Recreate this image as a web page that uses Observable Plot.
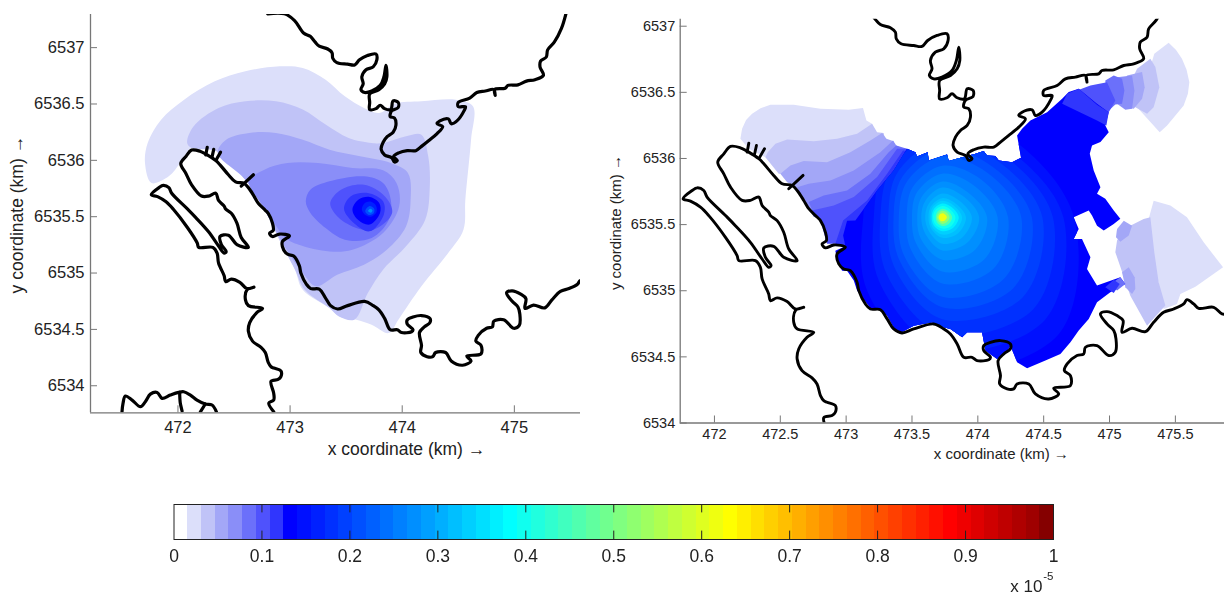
<!DOCTYPE html>
<html><head><meta charset="utf-8">
<script src="https://cdn.jsdelivr.net/npm/d3@7"></script>
<script src="https://cdn.jsdelivr.net/npm/@observablehq/plot@0.6"></script>
<style>
html,body{margin:0;padding:0;background:#fff}
#page{position:relative;width:1224px;height:596px;overflow:hidden;filter:blur(0.4px)}
#page svg{position:absolute;background:#fff}
</style></head><body><div id="page"></div>
<script>
// ---- colour table (64 levels, 0 .. 1 x 10^-5) ----
const colorTable = ["#ffffff","#dcdffa","#c0c3f7","#a3a7f7","#8a8ef8","#6b70fa","#4f52fc","#3036fd",
"#0000ff","#0010ff","#0020ff","#0030ff","#0040ff","#0050ff","#0060ff","#0070ff",
"#0080ff","#008fff","#009fff","#00afff","#00bfff","#00cfff","#00dfff","#00efff",
"#00ffff","#10ffef","#20ffdf","#30ffcf","#40ffbf","#50ffaf","#60ff9f","#70ff8f",
"#80ff80","#8fff70","#9fff60","#afff50","#bfff40","#cfff30","#dfff20","#efff10",
"#ffff00","#ffef00","#ffdf00","#ffcf00","#ffbf00","#ffaf00","#ff9f00","#ff8f00",
"#ff8000","#ff7000","#ff6000","#ff5000","#ff4000","#ff3000","#ff2000","#ff1000",
"#ff0000","#ef0000","#df0000","#cf0000","#bf0000","#af0000","#9f0000","#850000"];
const colorbarTicks = [0,0.1,0.2,0.3,0.4,0.5,0.6,0.7,0.8,0.9,1];

// ---- coastline, km ----
const coastNorth = [[472.80,6537.30],[472.95,6537.30],[473.04,6537.24],[473.12,6537.13],[473.18,6537.10],[473.222,6537.051],[473.26,6537.013],[473.336,6536.988],[473.374,6536.955],[473.381,6536.905],[473.417,6536.867],[473.513,6536.854],[473.576,6536.847],[473.619,6536.892],[473.69,6536.93],[473.766,6536.943],[473.774,6536.892],[473.741,6536.829],[473.677,6536.804],[473.64,6536.741],[473.652,6536.678],[473.632,6536.628],[473.665,6536.602],[473.728,6536.615],[473.804,6536.665],[473.837,6536.741],[473.855,6536.842],[473.863,6536.741],[473.843,6536.678],[473.792,6536.627],[473.71,6536.59],[473.71,6536.514],[473.71,6536.451],[473.766,6536.459],[473.804,6536.489],[473.843,6536.459],[473.898,6536.451],[473.919,6536.527],[473.964,6536.514],[473.964,6536.469],[473.906,6536.439],[473.893,6536.388],[473.931,6536.376],[473.944,6536.313],[473.919,6536.25],[473.868,6536.212],[473.83,6536.161],[473.812,6536.098],[473.843,6536.048],[473.906,6536.023],[473.931,6535.985],[473.956,6535.998],[473.924,6536.035],[473.969,6536.066],[474.045,6536.086],[474.121,6536.086],[474.172,6536.124],[474.235,6536.174],[474.311,6536.237],[474.361,6536.3],[474.311,6536.325],[474.336,6536.35],[474.412,6536.368],[474.437,6536.325],[474.488,6536.35],[474.551,6536.439],[474.564,6536.476],[474.5,6536.476],[474.5,6536.514],[474.602,6536.552],[474.665,6536.602],[474.741,6536.615],[474.817,6536.628],[474.829,6536.577],[474.824,6536.628],[474.918,6536.64],[474.943,6536.665],[475.032,6536.67],[475.108,6536.703],[475.184,6536.716],[475.259,6536.754],[475.229,6536.829],[475.234,6536.88],[475.285,6536.917],[475.297,6536.98],[475.356,6537.048],[475.42,6537.17],[475.46,6537.30]];
const coastMain = [[472.854,6533.77],[472.81,6533.846],[472.854,6533.874],[472.854,6533.933],[472.83,6534.04],[472.893,6534.056],[472.918,6534.081],[472.918,6534.132],[472.855,6534.157],[472.83,6534.169],[472.805,6534.207],[472.779,6534.295],[472.741,6534.341],[472.665,6534.396],[472.628,6534.484],[472.64,6534.56],[472.703,6534.648],[472.754,6534.686],[472.628,6534.711],[472.602,6534.762],[472.615,6534.85],[472.678,6534.875],[472.615,6534.862],[472.552,6534.918],[472.476,6534.946],[472.425,6534.925],[472.412,6534.976],[472.362,6535.089],[472.349,6535.177],[472.311,6535.228],[472.185,6535.228],[472.172,6535.266],[472.084,6535.404],[471.957,6535.568],[471.894,6535.632],[471.818,6535.678],[471.762,6535.695],[471.831,6535.758],[471.869,6535.778],[471.919,6535.758],[471.944,6535.708],[472.084,6535.569],[472.159,6535.492],[472.273,6535.366],[472.362,6535.24],[472.412,6535.177],[472.43,6535.19],[472.387,6535.253],[472.375,6535.324],[472.45,6535.336],[472.526,6535.253],[472.628,6535.228],[472.564,6535.316],[472.526,6535.442],[472.476,6535.53],[472.425,6535.568],[472.412,6535.594],[472.362,6535.645],[472.337,6535.708],[472.273,6535.683],[472.21,6535.683],[472.122,6535.783],[472.071,6535.884],[472.025,6535.972],[472.071,6536.035],[472.122,6536.091],[472.197,6536.081],[472.261,6536.048],[472.337,6535.998],[472.375,6535.96],[472.45,6535.872],[472.514,6535.809],[472.59,6535.796],[472.628,6535.758],[472.678,6535.683],[472.716,6535.62],[472.779,6535.557],[472.805,6535.53],[472.843,6535.442],[472.85,6535.379],[472.817,6535.354],[472.843,6535.324],[472.906,6535.346],[472.994,6535.329],[472.931,6535.278],[472.944,6535.203],[472.982,6535.165],[473.032,6535.152],[473.083,6535.064],[473.096,6535.001],[473.146,6534.9],[473.184,6534.862],[473.26,6534.857],[473.311,6534.787],[473.361,6534.711],[473.424,6534.681],[473.513,6534.711],[473.665,6534.749],[473.741,6534.711],[473.792,6534.673],[473.843,6534.598],[473.893,6534.497],[473.956,6534.497],[473.994,6534.472],[474.083,6534.479],[474.096,6534.497],[474.045,6534.547],[474.045,6534.585],[474.096,6534.61],[474.172,6534.623],[474.247,6534.598],[474.247,6534.56],[474.197,6534.522],[474.154,6534.472],[474.172,6534.358],[474.166,6534.295],[474.222,6534.258],[474.273,6534.258],[474.298,6534.295],[474.387,6534.295],[474.437,6534.22],[474.538,6534.182],[474.614,6534.22],[474.576,6534.263],[474.703,6534.283],[474.703,6534.358],[474.657,6534.396],[474.678,6534.447],[474.753,6534.51],[474.804,6534.522],[474.817,6534.573],[474.905,6534.585],[474.994,6534.51],[475.044,6534.535],[475.049,6534.636],[475.032,6534.699],[474.981,6534.749],[474.931,6534.825],[474.981,6534.842],[475.057,6534.812],[475.103,6534.774],[475.095,6534.686],[475.171,6534.716],[475.272,6534.691],[475.335,6534.762],[475.411,6534.837],[475.487,6534.862],[475.563,6534.9],[475.588,6534.933],[475.639,6534.9],[475.677,6534.867],[475.791,6534.875],[475.854,6534.825],[475.892,6534.825]];
const islandSouth = [[471.501,6533.769],[471.51,6533.844],[471.531,6533.909],[471.591,6533.873],[471.665,6533.814],[471.709,6533.858],[471.754,6533.926],[471.814,6533.941],[471.858,6533.888],[471.932,6533.917],[472.006,6533.941],[472.051,6533.947],[472.111,6533.917],[472.17,6533.873],[472.244,6533.838],[472.304,6533.829],[472.343,6533.769]];
const islandBranchA = [[472.015,6533.941],[472.021,6533.844],[472.037,6533.775]];
const islandBranchB = [[472.244,6533.838],[472.2,6533.769]];
const spurA = [[472.261,6536.116],[472.248,6536.048]];
const spurB = [[472.319,6536.098],[472.304,6536.03]];
const spurC = [[472.38,6536.073],[472.344,6536.01]];
const spurD = [[472.673,6535.872],[472.564,6535.771]];
const coastLines = [coastNorth,coastMain,islandSouth,islandBranchA,islandBranchB,spurA,spurB,spurC,spurD];

// ---- left panel contours, km ----
const leftL1 = [[471.706,6535.976],[471.73,6536.154],[471.85,6536.361],[472.055,6536.538],[472.328,6536.701],[472.601,6536.79],[472.908,6536.834],[473.113,6536.82],[473.317,6536.716],[473.488,6536.568],[473.659,6536.464],[473.795,6536.42],[473.932,6536.503],[474.171,6536.524],[474.478,6536.538],[474.631,6536.479],[474.614,6536.183],[474.563,6535.651],[474.546,6535.385],[474.41,6535.178],[474.171,6534.882],[473.966,6534.586],[473.881,6534.467],[473.727,6534.541],[473.59,6534.586],[473.437,6534.615],[473.352,6534.689],[473.113,6534.852],[473.044,6535.03],[472.942,6535.222],[472.771,6535.562],[472.601,6535.828],[472.345,6536.08],[472.123,6536.109],[472.02,6535.976],[471.918,6535.858],[471.764,6535.799]];
const leftL2 = [[472.082,6536.154],[472.14,6536.302],[472.362,6536.464],[472.601,6536.524],[472.874,6536.524],[473.113,6536.45],[473.317,6536.317],[473.522,6536.198],[473.727,6536.154],[473.829,6536.154],[474.034,6536.213],[474.171,6536.228],[474.232,6536.036],[474.246,6535.769],[474.205,6535.473],[474.034,6535.237],[473.829,6535.03],[473.693,6534.822],[473.573,6534.586],[473.437,6534.615],[473.352,6534.689],[473.13,6534.852],[473.044,6535.03],[472.942,6535.222],[472.771,6535.562],[472.601,6535.828],[472.345,6536.08],[472.123,6536.109]];
const leftL3 = [[472.355,6536.065],[472.43,6536.183],[472.635,6536.243],[472.874,6536.243],[473.113,6536.183],[473.352,6536.095],[473.625,6536.036],[473.898,6535.976],[474.051,6535.888],[474.075,6535.651],[474.034,6535.414],[473.863,6535.207],[473.659,6535.074],[473.42,6534.985],[473.232,6534.882],[473.113,6535],[472.959,6535.222],[472.771,6535.562],[472.601,6535.828]];
const leftL4 = [[472.635,6535.814],[472.771,6535.917],[472.976,6535.976],[473.249,6535.976],[473.556,6535.932],[473.829,6535.911],[473.949,6535.799],[473.973,6535.592],[473.829,6535.355],[473.556,6535.207],[473.352,6535.192],[473.078,6535.251],[472.959,6535.311],[472.805,6535.533]];
const leftL5 = [[473.14,6535.636],[473.181,6535.74],[473.352,6535.814],[473.659,6535.858],[473.829,6535.799],[473.898,6535.651],[473.881,6535.473],[473.727,6535.311],[473.488,6535.296],[473.317,6535.399],[473.181,6535.533]];
const leftL6 = [[473.358,6535.621],[473.454,6535.74],[473.659,6535.784],[473.846,6535.68],[473.91,6535.533],[473.744,6535.385],[473.556,6535.414],[473.42,6535.503]];
const leftL7 = [[473.481,6535.568],[473.539,6535.68],[473.693,6535.71],[473.829,6535.636],[473.836,6535.518],[473.71,6535.37],[473.573,6535.44]];
const leftL8 = [[473.556,6535.562],[473.608,6535.651],[473.71,6535.675],[473.795,6535.621],[473.802,6535.533],[473.71,6535.43],[473.608,6535.47]];
const leftL9 = [[473.64,6535.565],[473.665,6535.62],[473.715,6535.635],[473.765,6535.6],[473.77,6535.54],[473.72,6535.5],[473.665,6535.52]];
const leftL10 = [[473.67,6535.55],[473.71,6535.595],[473.75,6535.57],[473.745,6535.53],[473.7,6535.515]];
const leftL11 = [[473.695,6535.55],[473.715,6535.57],[473.735,6535.555],[473.72,6535.535]];
const leftLevels = [0.025,0.04,0.055,0.07,0.085,0.1,0.115,0.13,0.165,0.21,0.27];
const leftPolys = [leftL1,leftL2,leftL3,leftL4,leftL5,leftL6,leftL7,leftL8,leftL9,leftL10,leftL11];

// ---- right panel, km ----
const nwFan1 = [[472.197,6536.149],[472.21,6536.224],[472.24,6536.29],[472.286,6536.338],[472.35,6536.38],[472.425,6536.406],[472.602,6536.406],[472.805,6536.376],[473.02,6536.368],[473.128,6536.381],[473.154,6536.287],[473.197,6536.262],[473.235,6536.111],[472.754,6535.859],[472.501,6535.935],[472.387,6536.01],[472.261,6536.073]];
const nwFan2 = [[472.405,6536.048],[472.463,6536.111],[472.552,6536.144],[472.754,6536.131],[472.931,6536.149],[473.083,6536.187],[473.197,6536.262],[473.235,6536.199],[473.285,6536.192],[473.311,6536.061],[472.881,6535.859],[472.488,6535.884],[472.387,6536.01]];
const nwFan3 = [[472.501,6535.884],[472.577,6535.947],[472.678,6535.98],[472.855,6535.972],[473.032,6536.048],[473.184,6536.136],[473.273,6536.192],[473.306,6536.149],[473.361,6536.131],[473.26,6535.935],[472.881,6535.708],[472.678,6535.695],[472.602,6535.796],[472.552,6535.821]];
const nwFan4 = [[472.628,6535.783],[472.716,6535.809],[472.881,6535.834],[473.058,6535.909],[473.26,6536.048],[473.356,6536.136],[473.381,6536.098],[473.424,6536.073],[473.311,6535.859],[473.007,6535.632],[472.754,6535.557],[472.716,6535.632],[472.678,6535.695]];
const nwFan5 = [[472.716,6535.67],[472.83,6535.72],[473.007,6535.758],[473.184,6535.884],[473.323,6536.048],[473.381,6536.098],[473.462,6536.073],[473.311,6535.733],[473.007,6535.531],[472.805,6535.519],[472.754,6535.582]];
const nwFan6 = [[472.741,6535.607],[472.906,6535.645],[473.058,6535.708],[473.235,6535.859],[473.387,6536.073],[473.462,6536.073],[473.361,6535.758],[473.159,6535.544],[472.994,6535.355],[472.855,6535.355],[472.805,6535.531]];
const nwFan7 = [[472.977,6535.531],[473.159,6535.683],[473.311,6535.884],[473.432,6536.061],[473.526,6536.048],[473.361,6535.708],[473.159,6535.405],[472.994,6535.33],[472.918,6535.355]];
const nwLevels = [0.025,0.04,0.055,0.07,0.085,0.1,0.115];
const nwPolys = [nwFan1,nwFan2,nwFan3,nwFan4,nwFan5,nwFan6,nwFan7];

const neFan1 = [[475.34,6536.791],[475.449,6536.875],[475.505,6536.82],[475.55,6536.754],[475.585,6536.67],[475.606,6536.577],[475.595,6536.49],[475.563,6536.401],[475.437,6536.25],[475.381,6536.199],[475.209,6536.388],[475.31,6536.691]];
const neFan2 = [[475.209,6536.678],[475.31,6536.754],[475.348,6536.691],[475.378,6536.539],[475.335,6536.388],[475.285,6536.338],[475.196,6536.388],[475.133,6536.514]];
const neFan3 = [[475.133,6536.628],[475.247,6536.653],[475.267,6536.539],[475.247,6536.451],[475.184,6536.376],[475.12,6536.388],[475.082,6536.514]];
const neFan4 = [[475.057,6536.615],[475.171,6536.628],[475.189,6536.514],[475.171,6536.376],[475.12,6536.368],[475.057,6536.413]];
const neFan5 = [[474.968,6536.59],[475.032,6536.628],[475.095,6536.602],[475.113,6536.514],[475.095,6536.413],[475.044,6536.408],[474.981,6536.35]];
const neFan6 = [[474.753,6536.514],[474.855,6536.552],[474.981,6536.577],[475.044,6536.439],[474.994,6536.35],[474.905,6536.401]];
const eFan1 = [[475.335,6535.681],[475.462,6535.644],[475.588,6535.555],[475.715,6535.366],[475.862,6535.177],[475.652,6535.031],[475.538,6534.976],[475.512,6534.9],[475.411,6534.862],[475.335,6535.24],[475.297,6535.543]];
const eFan2 = [[475.044,6535.291],[475.057,6535.379],[475.108,6535.467],[475.259,6535.543],[475.31,6535.555],[475.34,6535.291],[475.373,6535.064],[475.424,6534.888],[475.285,6534.736],[475.158,6534.963]];
const eFan3a = [[475.057,6535.467],[475.108,6535.53],[475.171,6535.492],[475.146,6535.417],[475.082,6535.371],[475.049,6535.404]];
const eFan3b = [[475.095,6535.14],[475.146,6535.177],[475.191,6535.102],[475.196,6535.014],[475.171,6534.976],[475.12,6535.026]];
const outerLevels = [0.025,0.025,0.04,0.055,0.07,0.085,0.1,0.04,0.055,0.055];
const outerPolys = [neFan1,eFan1,neFan2,neFan3,neFan4,neFan5,neFan6,eFan2,eFan3a,eFan3b];

const bodyOutline = [[473.07,6535.531],[473.235,6535.758],[473.361,6535.909],[473.462,6536.073],[473.526,6536.048],[473.538,6536.015],[473.619,6536.048],[473.627,6535.985],[473.766,6536.03],[473.779,6535.98],[473.868,6536.005],[473.982,6536.035],[474.045,6536.056],[474.07,6536.023],[474.134,6536.018],[474.159,6535.985],[474.26,6535.972],[474.328,6536.005],[474.298,6536.174],[474.336,6536.224],[474.399,6536.287],[474.526,6536.35],[474.64,6536.451],[474.69,6536.502],[474.766,6536.527],[474.905,6536.413],[474.994,6536.35],[474.968,6536.25],[474.994,6536.199],[474.931,6536.124],[474.867,6536.098],[474.85,6536.035],[474.88,6535.909],[474.931,6535.783],[474.905,6535.733],[474.968,6535.695],[475.032,6535.607],[475.082,6535.544],[475.032,6535.505],[474.956,6535.455],[474.905,6535.492],[474.867,6535.568],[474.842,6535.606],[474.728,6535.555],[474.766,6535.467],[474.728,6535.392],[474.791,6535.392],[474.855,6535.253],[474.829,6535.165],[474.905,6535.039],[475.082,6535.102],[475.12,6535.051],[475.006,6534.988],[474.905,6534.913],[474.842,6534.787],[474.766,6534.699],[474.703,6534.61],[474.627,6534.522],[474.513,6534.472],[474.374,6534.414],[474.298,6534.459],[474.273,6534.522],[474.247,6534.585],[474.209,6534.522],[474.146,6534.484],[474.058,6534.547],[474.032,6534.686],[473.919,6534.686],[473.881,6534.648],[473.792,6534.711],[473.741,6534.724],[473.652,6534.762],[473.513,6534.736],[473.412,6534.681],[473.361,6534.724],[473.311,6534.812],[473.26,6534.862],[473.184,6534.867],[473.083,6535.001],[473.058,6535.077],[473.007,6535.152],[472.969,6535.152],[472.931,6535.24],[472.918,6535.303],[472.994,6535.336],[472.977,6535.417],[473.007,6535.53]];
const bodyLevel = 0.13;

const neTop = [[474.678,6536.489],[474.766,6536.527],[474.905,6536.406],[474.994,6536.35],[474.976,6536.25],[474.905,6536.287],[474.64,6536.413]];
const tongueA = [[475.006,6535.051],[475.082,6535.102],[475.12,6535.051],[475.057,6535.001]];
const tongueB = [[474.968,6535.026],[475.032,6535.084],[475.077,6535.051],[475.032,6534.983]];
const topLevels = [0.115,0.085,0.115];
const topPolys = [neTop,tongueA,tongueB];

// concentric contours around the peak: radius (km) along E, NE, N, NW, W, SW, S, SE
const peak = [473.73,6535.555];
const ringLevels = [0.148,0.164,0.18,0.195,0.21,0.227,0.242,0.258,0.273,0.289,0.305,0.32,0.336,0.367,0.40,0.46,0.53,0.61];
const ringRadii = [
[1.00,.80,.80,.68,.60,.80,1.15,1.25],[.92,.72,.72,.60,.52,.68,1.00,1.10],[.84,.66,.64,.54,.47,.60,.88,.98],
[.76,.60,.58,.48,.41,.52,.77,.86],[.68,.54,.52,.43,.37,.46,.68,.76],[.60,.48,.46,.38,.33,.41,.60,.66],
[.50,.41,.39,.32,.27,.34,.50,.55],[.42,.34,.33,.27,.23,.28,.41,.45],[.34,.27,.27,.22,.19,.23,.32,.35],
[.28,.225,.225,.18,.16,.18,.25,.27],[.225,.18,.18,.145,.13,.145,.20,.215],[.18,.145,.145,.12,.105,.12,.155,.17],
[.15,.125,.125,.105,.09,.105,.13,.14],[.125,.105,.105,.09,.08,.09,.105,.115],[.10,.085,.085,.075,.07,.075,.085,.095],
[.075,.065,.065,.055,.05,.055,.065,.07],[.055,.05,.05,.04,.04,.04,.05,.05],[.035,.03,.03,.028,.028,.028,.03,.03]];
const bearings = [[1,0],[.707,.707],[0,1],[-.707,.707],[-1,0],[-.707,-.707],[0,-1],[.707,-.707]];
const ringPolys = ringRadii.map(rs => rs.map((r,i)=>[peak[0]+r*bearings[i][0],peak[1]+r*bearings[i][1]]));

// ---- helpers ----
const rows = (polys,levels) => polys.flatMap((p,i)=>p.map(([x,y])=>({x,y,z:i,level:Array.isArray(levels)?levels[i]:levels})));
const fillMark = (polys,levels,curve) => Plot.line(rows(polys,levels),{x:"x",y:"y",z:"z",fill:"level",stroke:"none",curve});
const coastRows = coastLines.flatMap((p,i)=>p.map(([x,y])=>({x,y,z:i})));
const color = {type:"threshold",domain:colorTable.slice(1).map((_,i)=>(i+1)/64),range:colorTable};
const font = "'Liberation Sans',Arial,sans-serif";

function panel(o){
  const kx=o.kx, ky=o.ky;
  const [x0,x1]=o.xd,[y0,y1]=o.yd;
  return Plot.plot({
    width:o.width,height:o.height,marginLeft:o.ml,marginRight:o.mr,marginTop:o.mt,marginBottom:o.mb,
    x:{domain:o.xd},y:{domain:o.yd},color,
    style:{fontFamily:font,color:"#222",background:"#fff"},
    marks:[
      ...o.fills,
      Plot.line(coastRows,{x:"x",y:"y",z:"z",stroke:"#000",strokeWidth:o.sw,strokeLinejoin:"round",strokeLinecap:"round",clip:true,curve:"catmull-rom"}),
      Plot.ruleX([x0],{stroke:"#777",strokeWidth:1.3}),
      Plot.ruleY([y0],{stroke:"#777",strokeWidth:1.3}),
      Plot.ruleX(o.xt,{x:d=>d,y1:y0,y2:y0+7/ky,stroke:"#777"}),
      Plot.ruleY(o.yt,{y:d=>d,x1:x0,x2:x0+7/kx,stroke:"#777"}),
      Plot.axisX({ticks:o.xt,tickSize:0,tickPadding:o.tpx,tickFormat:d=>String(d),fontSize:o.fs,label:null,stroke:"none"}),
      Plot.axisY({ticks:o.yt,tickSize:0,tickPadding:o.tpy,tickFormat:d=>String(d),fontSize:o.fs,label:null,stroke:"none"}),
      Plot.text(["x coordinate (km) →"],{frameAnchor:"bottom",dx:o.xl[0],dy:o.xl[1],lineAnchor:"middle",fontSize:o.ls,fill:"#222"}),
      Plot.text(["y coordinate (km) →"],{frameAnchor:"left",dx:o.yl[0],dy:o.yl[1],rotate:-90,lineAnchor:"middle",textAnchor:"middle",fontSize:o.ls,fill:"#222"})
    ]
  });
}
const page = document.getElementById("page");
function place(svg,l,t){svg.style.left=l+"px";svg.style.top=t+"px";page.appendChild(svg);return svg;}

place(panel({width:600,height:470,ml:90,mr:20,mt:14,mb:57.7,xd:[471.22,475.59],yd:[6533.76,6537.294],kx:112.1,ky:112.7,sw:3.2,
  xt:[472,473,474,475],yt:[6534,6534.5,6535,6535.5,6536,6536.5,6537],fs:16.5,ls:17.5,tpx:8,tpy:6,xl:[71,36.7],yl:[-73,1],
  fills:[fillMark(leftPolys,leftLevels,"catmull-rom-closed")]}),0,0);

const right = place(panel({width:624,height:470,ml:79.7,mr:0,mt:18.7,mb:47.5,xd:[471.74,475.873],yd:[6534,6537.053],kx:131.7,ky:132.2,sw:2.9,
  xt:[472,472.5,473,473.5,474,474.5,475,475.5],yt:[6534,6534.5,6535,6535.5,6536,6536.5,6537],fs:14.5,ls:15,tpx:6,tpy:5,xl:[49,31.5],yl:[-63.7,1.5],
  fills:[
    fillMark(nwPolys,nwLevels,"linear-closed"),
    fillMark(outerPolys,outerLevels,"linear-closed"),
    fillMark([bodyOutline],bodyLevel,"linear-closed"),
    fillMark(ringPolys,ringLevels,"catmull-rom-closed"),
    fillMark(topPolys,topLevels,"linear-closed")
  ]}),600,0);
// contour rings stay inside the computed (blocky) domain
(function(){
  const gs = right.querySelectorAll('g[aria-label="line"]');
  const bodyPath = gs[2].querySelector("path");
  const ns="http://www.w3.org/2000/svg";
  const cp=document.createElementNS(ns,"clipPath"); cp.setAttribute("id","bodyClip");
  const p=document.createElementNS(ns,"path"); p.setAttribute("d",bodyPath.getAttribute("d")); cp.appendChild(p);
  right.appendChild(cp);
  gs[3].setAttribute("clip-path","url(#bodyClip)");
})();

// ---- colour bar ----
const bandIndex = colorTable.map((_,i)=>i);
place(Plot.plot({
  width:930,height:106,marginLeft:23.5,marginRight:27,marginTop:14,marginBottom:57,
  x:{domain:[0,1]},y:{domain:[0,1],axis:null},color,
  style:{fontFamily:font,color:"#222",background:"#fff"},
  marks:[
    Plot.rect(bandIndex,{x1:i=>i/64,x2:i=>(i+1)/64,y1:0,y2:1,fill:i=>(i+.5)/64,inset:0,shapeRendering:"crispEdges"}),
    Plot.ruleX(colorbarTicks.slice(1,-1),{x:d=>d,y1:0,y2:.24,stroke:"#222"}),
    Plot.ruleX(colorbarTicks.slice(1,-1),{x:d=>d,y1:.76,y2:1,stroke:"#222"}),
    Plot.frame({stroke:"#222"}),
    Plot.axisX({ticks:colorbarTicks,tickSize:0,tickPadding:10,tickFormat:d=>String(d),fontSize:17.5,label:null,stroke:"none"}),
    Plot.text(["x 10"],{frameAnchor:"bottom-right",dx:-11,dy:47,textAnchor:"end",lineAnchor:"middle",fontSize:17,fill:"#222"}),
    Plot.text(["-5"],{frameAnchor:"bottom-right",dx:0,dy:37,textAnchor:"end",lineAnchor:"middle",fontSize:11.5,fill:"#222"})
  ]
}),150,490);
</script></body></html>
